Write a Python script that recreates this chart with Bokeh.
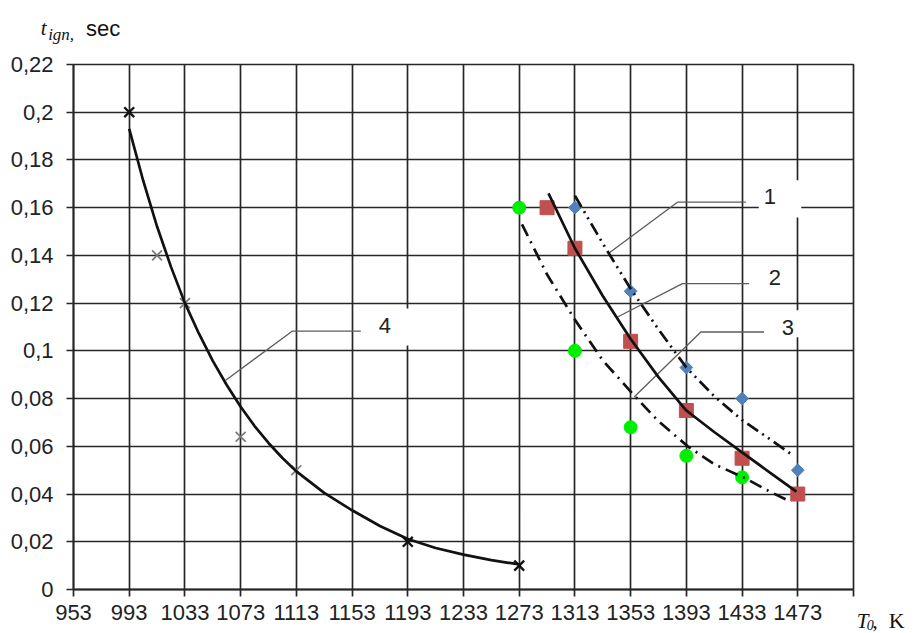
import numpy as np
from bokeh.plotting import figure
from bokeh.models import Label, FixedTicker, CustomJSTickFormatter, Range1d
from bokeh.embed import file_html
from bokeh.resources import INLINE

# ---------------- data ----------------
x_ticks = [953, 993, 1033, 1073, 1113, 1153, 1193, 1233, 1273, 1313, 1353, 1393, 1433, 1473, 1513]
x_tick_labels = ["953", "993", "1033", "1073", "1113", "1153", "1193", "1233", "1273",
                 "1313", "1353", "1393", "1433", "1473", ""]
y_ticks = [0, 0.02, 0.04, 0.06, 0.08, 0.1, 0.12, 0.14, 0.16, 0.18, 0.2, 0.22]
y_tick_labels = ["0", "0,02", "0,04", "0,06", "0,08", "0,1", "0,12", "0,14", "0,16", "0,18", "0,2", "0,22"]

# series 1 (blue diamonds)
s1_T = [1313, 1353, 1393, 1433, 1473]
s1_t = [0.16, 0.125, 0.093, 0.08, 0.05]
# series 2 (red squares)
s2_T = [1293, 1313, 1353, 1393, 1433, 1473]
s2_t = [0.16, 0.143, 0.104, 0.075, 0.055, 0.04]
# series 3 (green circles)
s3_T = [1273, 1313, 1353, 1393, 1433]
s3_t = [0.16, 0.1, 0.068, 0.056, 0.047]
# series 4 (crosses)
s4_black_T = [993, 1193, 1273]
s4_black_t = [0.2, 0.02, 0.01]
s4_gray_T = [1013, 1033, 1073, 1113]
s4_gray_t = [0.14, 0.12, 0.064, 0.05]

# fitted curves
c1_T = [1313, 1333, 1353, 1373, 1393, 1413, 1433, 1453, 1470]
c1_t = [0.165, 0.145, 0.126, 0.109, 0.093, 0.081, 0.071, 0.063, 0.056]
c2_T = [1294, 1313, 1333, 1353, 1373, 1393, 1413, 1433, 1453, 1472]
c2_t = [0.166, 0.143, 0.123, 0.105, 0.089, 0.075, 0.066, 0.0575, 0.049, 0.041]
c3_T = [1275, 1293, 1313, 1333, 1356, 1373, 1394, 1413, 1434, 1453, 1467]
c3_t = [0.153, 0.132, 0.113, 0.096, 0.081, 0.0705, 0.060, 0.0525, 0.047, 0.041, 0.037]
c4_T = [993, 1003, 1013, 1023, 1033, 1043, 1053, 1063, 1073, 1083, 1093, 1103, 1113,
        1133, 1153, 1173, 1193, 1213, 1233, 1253, 1273]
c4_t = [0.193, 0.1714, 0.1521, 0.1352, 0.12, 0.1073, 0.0958, 0.0857, 0.0766, 0.0685, 0.0614,
        0.0551, 0.0495, 0.0405, 0.0332, 0.0266, 0.0212, 0.0174, 0.0146, 0.0123, 0.0105]

curve_labels = ["1", "2", "3", "4"]

# ---------------- figure ----------------
GRID = "#262626"
p = figure(width=910, height=633, x_range=Range1d(953, 1513), y_range=Range1d(0, 0.22),
           output_backend="svg", toolbar_location=None,
           min_border_left=73, min_border_right=57, min_border_top=64, min_border_bottom=44)
p.background_fill_color = "white"
p.border_fill_color = "white"
p.outline_line_color = GRID
p.outline_line_width = 1.7

fmt_code = """
let best = 0, d = Infinity;
for (let i = 0; i < tv.length; i++) {
  const e = Math.abs(tv[i] - tick);
  if (e < d) { d = e; best = i; }
}
return tl[best];
"""
xt = FixedTicker(ticks=x_ticks)
yt = FixedTicker(ticks=y_ticks)
p.xaxis.ticker = xt
p.yaxis.ticker = yt
p.xgrid.ticker = xt
p.ygrid.ticker = yt
p.xaxis.formatter = CustomJSTickFormatter(args=dict(tv=x_ticks, tl=x_tick_labels), code=fmt_code)
p.yaxis.formatter = CustomJSTickFormatter(args=dict(tv=y_ticks, tl=y_tick_labels), code=fmt_code)

for ax in (p.xaxis, p.yaxis):
    ax.axis_line_color = GRID
    ax.axis_line_width = 1.8
    ax.major_tick_line_color = GRID
    ax.major_tick_line_width = 1.7
    ax.major_tick_out = 7
    ax.major_tick_in = 0
    ax.minor_tick_line_color = None
    ax.major_label_text_font = "Liberation Sans"
    ax.major_label_text_color = "#222222"
p.xaxis.major_label_text_font_size = "22px"
p.yaxis.major_label_text_font_size = "22px"
p.xaxis.major_label_standoff = 8
p.yaxis.major_label_standoff = 13

for g in (p.xgrid, p.ygrid):
    g.grid_line_color = GRID
    g.grid_line_width = 1.7
    g.grid_line_alpha = 1.0

# white boxes behind the curve labels (hide grid lines)
p.quad(left=[1445, 1451, 1163], right=[1475.5, 1484, 1203], bottom=[0.1559, 0.1057, 0.1023],
       top=[0.1715, 0.117, 0.1178], fill_color="white", line_color=None)

# leader lines
LEAD = "#5c5c5c"
p.line([1337.5, 1386.6, 1435.7], [0.141, 0.1623, 0.1623], line_color=LEAD, line_width=1.3)
p.line([1343.6, 1390.2, 1438.0], [0.1142, 0.1282, 0.1282], line_color=LEAD, line_width=1.3)
p.line([1355.5, 1403.4, 1448.8], [0.0807, 0.1079, 0.1079], line_color=LEAD, line_width=1.3)
p.line([1062.3, 1110.2, 1159.3], [0.0877, 0.1083, 0.1083], line_color=LEAD, line_width=1.3)

# markers
p.scatter(s4_gray_T, s4_gray_t, marker="x", size=14, line_color="#7a7a7a", line_width=1.7)
p.scatter(s4_black_T, s4_black_t, marker="x", size=14, line_color="#111111", line_width=2.3)
p.scatter(s1_T, s1_t, marker="square", angle=np.pi / 4, size=9, fill_color="#4F81BD",
          line_color="#4F81BD")
p.scatter(s2_T, s2_t, marker="square", size=14, fill_color="#C0504D", line_color="#C0504D")
p.scatter(s3_T, s3_t, marker="circle", size=13, fill_color="#00EE00", line_color="#00EE00")

# curves
p.line(c4_T, c4_t, line_color="#111111", line_width=2.7)
p.line(c2_T, c2_t, line_color="#111111", line_width=2.7)
p.line(c1_T, c1_t, line_color="#111111", line_width=2.7, line_dash="13 5 2 5 2 5")
p.line(c3_T, c3_t, line_color="#111111", line_width=2.7, line_dash="13 6 2 6")

# curve number labels
for txt, (lx, ly) in zip(curve_labels, [(1452.9, 0.1645), (1456.5, 0.1306), (1465.8, 0.1096), (1176.5, 0.1107)]):
    p.add_layout(Label(x=lx, y=ly, text=txt, text_align="center", text_baseline="middle",
                       text_font="Liberation Sans", text_font_size="22px", text_color="#222222"))

# axis titles (placed in side panels so they are not clipped to the frame)
p.add_layout(Label(x=929.5, y=0.2351, text="t", text_font="Liberation Serif", text_font_style="italic",
                   text_font_size="21px", text_baseline="alphabetic", text_color="#111111"), "left")
p.add_layout(Label(x=934.8, y=0.2326, text="ign,", text_font="Liberation Serif", text_font_style="italic",
                   text_font_size="17px", text_baseline="alphabetic", text_color="#111111"), "above")
p.add_layout(Label(x=962.0, y=0.2351, text="sec", text_font="Liberation Sans",
                   text_font_size="22px", text_baseline="alphabetic", text_color="#111111"), "above")

p.add_layout(Label(x=1515.4, y=-0.0131, text="T", text_font="Liberation Serif", text_font_style="italic",
                   text_font_size="21px", text_baseline="alphabetic", text_color="#111111"), "right")
p.add_layout(Label(x=1522.5, y=-0.0150, text="0", text_font="Liberation Serif", text_font_style="italic",
                   text_font_size="14px", text_baseline="alphabetic", text_color="#111111"), "right")
p.add_layout(Label(x=1526.4, y=-0.0131, text=",\u00a0\u00a0K", text_font="Liberation Serif",
                   text_font_size="22px", text_baseline="alphabetic", text_color="#111111"), "right")

open("out.html", "w").write(file_html(p, INLINE))
